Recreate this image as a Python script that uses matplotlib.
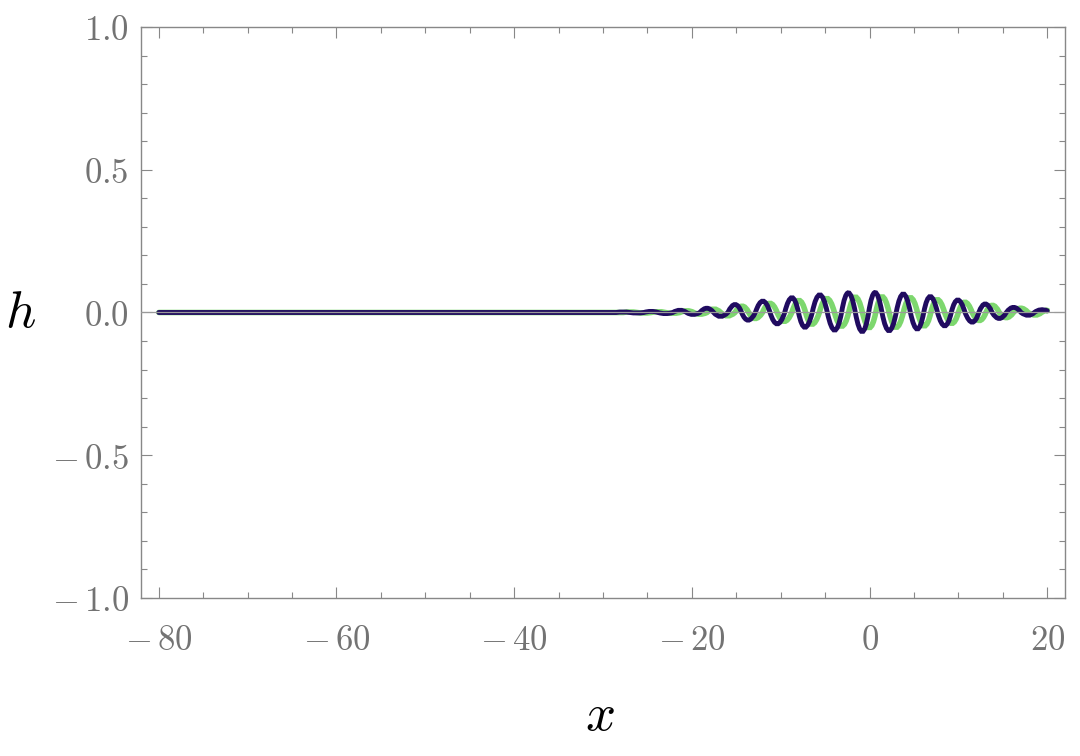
import numpy as np
import matplotlib
matplotlib.use('Agg')
import matplotlib.pyplot as plt
from matplotlib.path import Path
from matplotlib.patches import PathPatch

plt.rcParams['mathtext.fontset'] = 'cm'

# extrema of the wave packets (alternating peak / trough)
navy_x = [-27.75, -26.2, -24.6, -23.0, -21.3, -19.9, -18.3, -16.8, -15.1, -13.7,
          -12.0, -10.4, -8.7, -7.3, -5.6, -3.9, -2.4, -0.8, 0.6, 2.2,
          3.8, 5.4, 6.8, 8.5, 9.9, 11.6, 13.0, 14.6, 16.2, 17.9, 19.2]
navy_h = [0.002, -0.002, 0.004, -0.004, 0.008, -0.007, 0.015, -0.014, 0.028, -0.027,
          0.040, -0.040, 0.052, -0.052, 0.062, -0.062, 0.069, -0.067, 0.070, -0.064,
          0.065, -0.058, 0.056, -0.047, 0.044, -0.034, 0.030, -0.021, 0.018, -0.010, 0.008]
navy_end = (20.0, 0.006)

green_x = [-26.95, -25.4, -23.8, -22.2, -20.5, -19.1, -17.5, -16.0, -14.3, -12.9,
           -11.2, -9.6, -7.9, -6.5, -4.8, -3.1, -1.6, 0.0, 1.4, 3.0,
           4.6, 6.2, 7.6, 9.3, 10.7, 12.4, 13.8, 15.4, 17.0, 18.7, 20.0]
green_h = [0.002, -0.002, 0.003, -0.003, 0.006, -0.006, 0.012, -0.012, 0.022, -0.021,
           0.032, -0.031, 0.042, -0.041, 0.049, -0.048, 0.054, -0.053, 0.055, -0.052,
           0.052, -0.047, 0.045, -0.038, 0.036, -0.028, 0.025, -0.018, 0.015, -0.009, 0.006]
green_end = (20.0, 0.006)

x_start = -80.0
x_ticks = [-80, -60, -40, -20, 0, 20]
y_ticks = [-1.0, -0.5, 0.0, 0.5, 1.0]
x_ticklabels = [r'$-\,80$', r'$-\,60$', r'$-\,40$', r'$-\,20$', r'$0$', r'$20$']
y_ticklabels = [r'$-\,1.0$', r'$-\,0.5$', r'$0.0$', r'$0.5$', r'$1.0$']


def packet_path(xe, he, end):
    # flat line up to the first zero crossing, then one quadratic bezier per half wave
    xe = np.asarray(xe, dtype=float)
    he = np.asarray(he, dtype=float)
    first = xe[0] - 0.5 * (xe[1] - xe[0])
    verts = [(x_start, 0.0), (first, 0.0)]
    codes = [Path.MOVETO, Path.LINETO]
    for i in range(len(xe)):
        if i < len(xe) - 1:
            nxt = (0.5 * (xe[i] + xe[i + 1]), 0.0)
        else:
            nxt = end
        verts += [(xe[i], 2.0 * he[i]), nxt]
        codes += [Path.CURVE3, Path.CURVE3]
    return Path(verts, codes)


fig = plt.figure(figsize=(10.8, 7.56), dpi=100)
ax = fig.add_axes([0.1306, 0.2090, 0.8555, 0.7553])

ax.add_patch(PathPatch(packet_path(green_x, green_h, green_end), facecolor='none',
                       edgecolor='#7dd76e', lw=4.0, capstyle='round', zorder=2))
ax.add_patch(PathPatch(packet_path(navy_x, navy_h, navy_end), facecolor='none',
                       edgecolor='#200b60', lw=3.5, capstyle='round', zorder=3))
ax.axhline(0.0, color='#9a9a9a', lw=0.9, zorder=4)

ax.set_xlim(-82, 22)
ax.set_ylim(-1, 1)

gray = '#737373'
for s in ax.spines.values():
    s.set_color('#888888')
    s.set_linewidth(1.0)

ax.set_xticks(x_ticks)
ax.set_xticklabels(x_ticklabels)
ax.set_yticks(y_ticks)
ax.set_yticklabels(y_ticklabels)
ax.set_xticks(np.arange(-80, 21, 5), minor=True)
ax.set_yticks(np.arange(-1.0, 1.01, 0.1), minor=True)
ax.tick_params(which='both', direction='in', top=True, right=True, color='#888888',
               width=0.8, labelcolor=gray, labelsize=25)
ax.tick_params(which='major', length=8)
ax.tick_params(which='minor', length=4.5)
ax.tick_params(axis='x', which='major', pad=18)
ax.tick_params(axis='y', which='major', pad=9)

ax.set_xlabel(r'$x$', fontsize=38, color='black', va='center')
ax.set_ylabel(r'$h$', fontsize=38, color='black', rotation=0, ha='center', va='center')
ax.xaxis.set_label_coords(0.497, -0.205)
ax.yaxis.set_label_coords(-0.131, 0.5)

fig.savefig('out.png', dpi=100)
